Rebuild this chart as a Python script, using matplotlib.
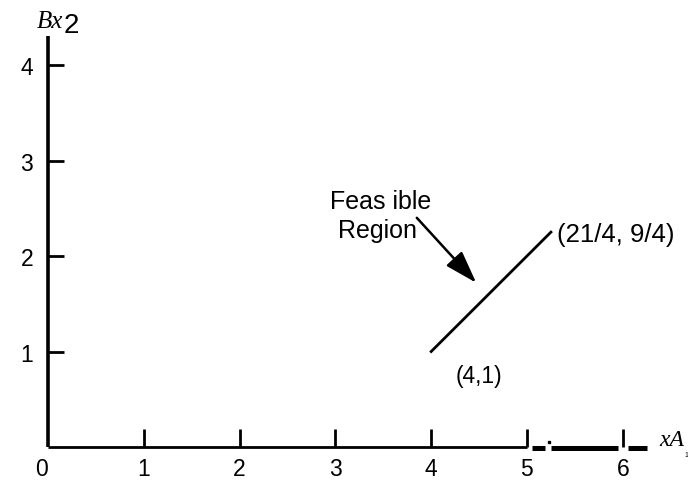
import matplotlib
matplotlib.use("Agg")
import matplotlib.pyplot as plt

# Axis ticks and labels
x_ticks = [1, 2, 3, 4, 5, 6]
x_tick_labels = ["0", "1", "2", "3", "4", "5", "6"]
x_label_pos = [0, 1, 2, 3, 4, 5, 6]
y_ticks = [1, 2, 3, 4]
y_tick_labels = ["1", "2", "3", "4"]

# Feasible region: segment between two corner points
seg_x = [4, 21 / 4]
seg_y = [1, 9 / 4]
corner_labels = ["(4,1)", "(21/4, 9/4)"]

plt.rcParams["font.family"] = ["Liberation Sans", "DejaVu Sans"]

fig = plt.figure(figsize=(6.88, 4.89), dpi=100)
ax = fig.add_axes([0, 0, 1, 1])
ax.set_xlim(-0.501, 6.681)
ax.set_ylim(-0.429, 4.691)
ax.axis("off")

k = "black"
# axes lines
ax.plot([0, 0], [0, 4.3], color=k, lw=2.6, solid_capstyle="butt")
ax.plot([0, 5.0], [0, 0], color=k, lw=2.0, solid_capstyle="butt")
ax.plot([5.05, 5.19], [-0.01, -0.01], color=k, lw=3.6, solid_capstyle="butt")
ax.plot([5.25, 5.95], [-0.01, -0.01], color=k, lw=3.6, solid_capstyle="butt")
ax.plot([6.05, 6.25], [-0.01, -0.01], color=k, lw=3.6, solid_capstyle="butt")
ax.plot([5.23], [0.05], marker="s", ms=1.6, color=k)

# ticks
for t in x_ticks:
    ax.plot([t, t], [0, 0.19], color=k, lw=2.0, solid_capstyle="butt")
for t in y_ticks:
    ax.plot([0, 0.17], [t, t], color=k, lw=2.0, solid_capstyle="butt")

# tick labels
for v, s in zip(x_label_pos, x_tick_labels):
    ax.text(v - 0.07 if v == 0 else v, -0.23, s, fontsize=16.5, ha="center", va="center")
for v, s in zip(y_ticks, y_tick_labels):
    ax.text(-0.22, v - 0.03, s, fontsize=16.5, ha="center", va="center")

# axis names
ax.text(-0.115, 4.40, "Bx", fontsize=18, family="Liberation Serif", style="italic",
        ha="left", va="baseline")
ax.text(0.16, 4.345, "2", fontsize=20, ha="left", va="baseline")
ax.text(6.385, 0.02, "xA", fontsize=17, family="Liberation Serif", style="italic",
        ha="left", va="baseline")
ax.text(6.64, -0.09, "1", fontsize=5, ha="left", va="baseline")

# feasible segment
ax.plot(seg_x, seg_y, color=k, lw=2.0)
ax.text(4.26, 0.754, corner_labels[0], fontsize=16.5, ha="left", va="center")
ax.text(5.315, 2.23, corner_labels[1], fontsize=18.5, ha="left", va="center")

# annotation
ax.text(2.94, 2.50, "Feas ible", fontsize=18, ha="left", va="baseline")
ax.text(3.03, 2.20, "Region", fontsize=18, ha="left", va="baseline")
ax.annotate("", xy=(4.47, 1.72), xytext=(3.85, 2.40),
            arrowprops=dict(arrowstyle="-|>,head_length=2.0,head_width=0.65",
                            color=k, lw=1.8, shrinkA=0, shrinkB=0))

fig.savefig("out.png", dpi=100)
